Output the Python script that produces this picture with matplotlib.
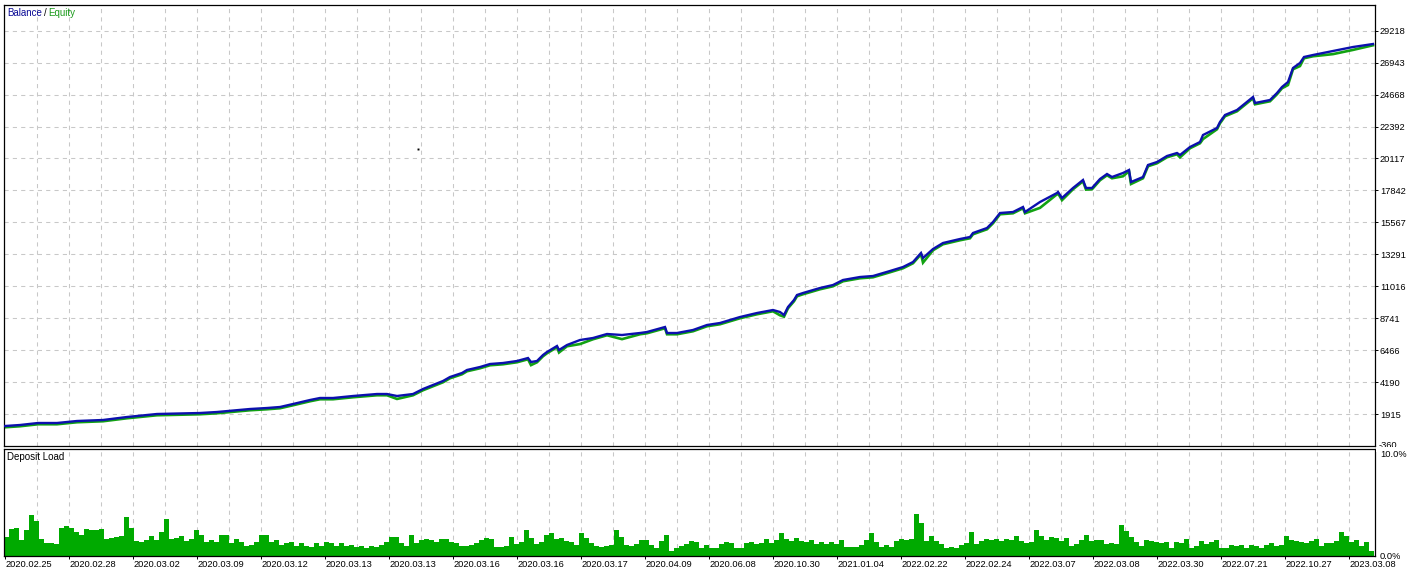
import matplotlib
matplotlib.use('Agg')
import matplotlib.pyplot as plt
from matplotlib.patches import Rectangle

# ---------------- data ----------------
trade_x = [1, 16, 34, 53, 73, 99, 123, 153, 196, 213, 246, 263, 276, 289, 306, 316, 329, 349, 373, 383,
           393, 409, 419, 439, 446, 458, 463, 476, 486, 499, 513, 524, 527, 533, 539, 543, 553, 555, 563, 576,
           589, 603, 618, 636, 643, 661, 663, 673, 689, 703, 716, 736, 753, 769, 776, 780, 784, 790, 793, 799,
           816, 829, 839, 856, 869, 886, 899, 909, 917, 919, 929, 939, 956, 966, 969, 983, 989, 996, 1009, 1019,
           1021, 1036, 1053, 1054, 1058, 1069, 1079, 1082, 1088, 1096, 1103, 1108, 1119, 1125, 1127, 1139, 1144, 1153, 1163, 1173,
           1176, 1186, 1196, 1199, 1213, 1216, 1221, 1233, 1249, 1251, 1266, 1273, 1278, 1284, 1289, 1296, 1300, 1309, 1329, 1349,
           1369]

balance = [1064, 1136, 1278, 1278, 1421, 1492, 1705, 1919, 1990, 2061, 2275, 2346, 2418, 2631, 2916, 3059, 3059, 3201, 3343, 3343,
           3201, 3343, 3700, 4269, 4554, 4839, 5053, 5266, 5480, 5551, 5694, 5907, 5623, 5694, 6121, 6335, 6762, 6477, 6833, 7189,
           7332, 7617, 7545, 7688, 7759, 8115, 7688, 7688, 7902, 8258, 8400, 8827, 9112, 9326, 9183, 8970, 9540, 10038, 10394, 10537,
           10893, 11106, 11463, 11676, 11747, 12104, 12388, 12744, 13385, 13029, 13670, 14098, 14383, 14525, 14810, 15166, 15593, 16234, 16305, 16662,
           16305, 17018, 17659, 17730, 17303, 18015, 18585, 18015, 18015, 18656, 19012, 18798, 19083, 19297, 18442, 18798, 19653, 19866, 20294, 20507,
           20365, 20935, 21291, 21789, 22288, 22715, 23214, 23570, 24496, 24068, 24282, 24781, 25208, 25564, 26561, 26917, 27345, 27487, 27772, 28057,
           28270]

equity = [974, 1046, 1188, 1188, 1331, 1402, 1615, 1829, 1900, 1971, 2185, 2256, 2328, 2541, 2826, 2969, 2969, 3111, 3253, 3253,
          2990, 3253, 3610, 4179, 4464, 4749, 4963, 5176, 5390, 5461, 5604, 5817, 5400, 5604, 6031, 6245, 6672, 6300, 6743, 6900,
          7242, 7527, 7250, 7598, 7669, 8025, 7598, 7598, 7812, 8168, 8310, 8737, 9022, 9236, 8950, 8850, 9450, 9948, 10304, 10447,
          10803, 11016, 11373, 11586, 11657, 12014, 12298, 12654, 13295, 12700, 13580, 14008, 14293, 14435, 14720, 15076, 15503, 16144, 16215, 16572,
          16215, 16600, 17569, 17640, 17150, 17925, 18495, 17900, 17925, 18566, 18922, 18708, 18850, 19207, 18300, 18708, 19563, 19776, 20204, 20417,
          20200, 20845, 21201, 21500, 22198, 22625, 23124, 23480, 24406, 23978, 24192, 24691, 25118, 25350, 26471, 26700, 27255, 27397, 27550, 27850,
          28180]

stray_x = [414]
stray_y = [20792]

deposit_load = [
    1.8, 2.5, 2.6, 1.5, 2.4, 3.8, 3.3, 1.6, 1.2, 1.2,
    1.1, 2.6, 2.8, 2.6, 2.2, 2.0, 2.5, 2.4, 2.4, 2.5,
    1.6, 1.7, 1.8, 1.9, 3.6, 2.6, 1.4, 1.3, 1.5, 1.9,
    1.5, 2.2, 3.4, 1.6, 1.7, 1.9, 1.4, 1.6, 2.4, 2.0,
    1.3, 1.5, 1.3, 2.0, 2.0, 1.2, 1.6, 1.3, 0.9, 1.0,
    1.3, 2.0, 2.0, 1.3, 1.5, 1.0, 1.2, 1.3, 0.9, 1.2,
    0.9, 0.8, 1.2, 0.9, 1.3, 1.2, 0.9, 1.2, 0.9, 1.0,
    0.8, 0.9, 0.7, 0.9, 0.8, 1.0, 1.3, 1.8, 1.8, 1.2,
    0.9, 2.0, 1.2, 1.5, 1.6, 1.5, 1.3, 1.6, 1.6, 1.3,
    1.2, 0.9, 0.9, 1.0, 1.2,
    1.5, 1.7, 1.6, 0.8, 0.8, 0.9, 1.8, 1.1, 1.3, 2.4,
    1.7, 1.1, 1.3, 2.0, 2.1, 1.6, 1.7, 1.4, 1.3, 1.0,
    2.1, 1.7, 1.2, 0.9, 0.8, 0.9, 1.0, 2.4, 1.8, 1.0,
    0.9, 1.1, 1.5, 1.5, 1.0, 0.7, 1.4, 2.0, 0.5, 0.7,
    0.9, 1.1, 1.4, 1.3, 0.7, 1.0, 0.7, 0.7, 1.1, 1.3,
    1.2, 0.7, 0.7, 1.2, 1.3, 1.1, 1.2, 1.6, 1.2, 1.5,
    2.1, 1.6, 1.4, 1.7, 1.4, 1.3, 1.5, 1.1, 1.3, 1.1,
    1.3, 1.1, 1.5, 0.8, 0.8, 0.8, 1.0, 1.5, 2.1, 1.3,
    0.8, 1.0, 0.8, 1.4, 1.6, 1.5, 1.6, 3.9, 3.1, 1.4,
    1.9, 1.4, 1.1, 0.7,
    0.8, 0.7, 1.0, 1.2, 2.2, 1.1, 1.4, 1.6, 1.5, 1.6,
    1.4, 1.6, 1.5, 1.9, 1.4, 1.2, 1.3, 2.4, 1.9, 1.5,
    1.8, 1.7, 1.4, 1.7, 0.9, 1.1, 1.5, 2.0, 1.4, 1.5,
    1.5, 1.1, 1.2, 1.1, 2.9, 2.3, 1.8, 1.3, 0.9, 1.5,
    1.4, 1.3, 1.2, 1.3, 0.7, 1.3, 1.2, 1.6, 0.7, 0.9,
    1.4, 1.1, 1.3, 1.5, 0.7, 0.7, 1.0, 0.9, 1.0, 0.7,
    1.0, 0.9, 0.7, 1.0, 1.2, 0.9, 1.0, 1.9, 1.5, 1.4,
    1.3, 1.2, 1.4, 1.6, 0.9, 1.2, 1.2, 1.4, 2.2, 1.9,
    1.3, 1.5, 0.9, 1.3, 0.5]

y_tick_values = [1915, 4190, 6466, 8741, 11016, 13291, 15567, 17842, 20117, 22392, 24668, 26943, 29218]
y_tick_labels = ['1915', '4190', '6466', '8741', '11016', '13291', '15567', '17842', '20117', '22392', '24668', '26943', '29218']
y_bottom_label = '-360'

date_labels = ['2020.02.25', '2020.02.28', '2020.03.02', '2020.03.09', '2020.03.12', '2020.03.13',
               '2020.03.13', '2020.03.16', '2020.03.16', '2020.03.17', '2020.04.09', '2020.06.08',
               '2020.10.30', '2021.01.04', '2022.02.22', '2022.02.24', '2022.03.07', '2022.03.08',
               '2022.03.30', '2022.07.21', '2022.10.27', '2023.03.08']
load_labels = ['10.0%', '0.0%']

# ---------------- style ----------------
BLUE = '#0C10AE'
GREEN = '#12A212'
BAR_GREEN = '#00AA00'
GRID = '#C8C8C8'
FS = 6.7

plt.rcParams['font.family'] = ['Liberation Sans', 'DejaVu Sans']

W, H = 1420, 573
fig = plt.figure(figsize=(W / 100, H / 100), dpi=100)
fig.patch.set_facecolor('white')


def fx(px):
    return px / W


def fy(py):
    return 1 - py / H


L, R = 4, 1375
T1, B1 = 4.5, 446
T2, B2 = 448.5, 556
ax1 = fig.add_axes([fx(L), fy(B1), (R - L) / W, (B1 - T1) / H])
ax2 = fig.add_axes([fx(L), fy(B2), (R - L) / W, (B2 - T2) / H])

XMAX = R - L
ymin, ymax = -360, 31084

# grid positions every 32 px, labels every 64 px
grid_x = [1.33 + 32 * k for k in range(1, 43)]
label_x = [1.33 + 64 * k for k in range(len(date_labels))]

for ax in (ax1, ax2):
    ax.set_xlim(0, XMAX)
    for s in ax.spines.values():
        s.set_color('black')
        s.set_linewidth(0.9)
    for gx in grid_x:
        ax.axvline(gx, color=GRID, lw=0.75, ls=(0, (4, 4)), zorder=0)

# ---- top panel ----
ax1.set_ylim(ymin, ymax)
for gy in y_tick_values:
    ax1.axhline(gy, color=GRID, lw=0.75, ls=(0, (4, 4)), zorder=0)
ax1.plot(trade_x, equity, color=GREEN, lw=1.9, zorder=2, solid_joinstyle='miter')
ax1.plot(trade_x, balance, color=BLUE, lw=1.7, zorder=3, solid_joinstyle='miter')
ax1.plot(stray_x, stray_y, 's', ms=1.4, color='black', mew=0, zorder=3)
ax1.set_xticks([])
ax1.yaxis.tick_right()
ax1.set_yticks(y_tick_values)
ax1.set_yticklabels(y_tick_labels)
ax1.tick_params(axis='y', right=True, left=False, labelright=True, labelleft=False,
                length=2, width=0.7, pad=1.5, labelsize=FS, colors='black')

# legend-like title
t = fig.text(fx(7), fy(13), 'Balance', color='#0A0A96', fontsize=FS + 0.3, va='center', ha='left')
fig.canvas.draw()
bb = t.get_window_extent()
t2 = fig.text(bb.x1 / W + fx(2), fy(13), '/', color='black', fontsize=FS + 0.3, va='center', ha='left')
bb2 = t2.get_window_extent()
fig.text(bb2.x1 / W + fx(2), fy(13), 'Equity', color='#1A9A1A', fontsize=FS + 0.3, va='center', ha='left')

# bottom "-360" label (clipped by the lower panel)
fig.text(fx(1379), fy(446), y_bottom_label, fontsize=FS, va='center', ha='left', zorder=1)
fig.patches.append(Rectangle((fx(1376), fy(452)), fx(44), (452 - 447.2) / H, transform=fig.transFigure,
                             facecolor='white', edgecolor='none', zorder=2))

# ---- bottom panel ----
ax2.set_ylim(0, 10)
bar_left = [5 * i for i in range(len(deposit_load))]
ax2.bar(bar_left, deposit_load, width=5, align='edge', color=BAR_GREEN, edgecolor='none', zorder=2)
ax2.set_yticks([])
ax2.set_xticks(label_x)
ax2.set_xticklabels(date_labels)
for lab in ax2.get_xticklabels():
    lab.set_ha('left')
    lab.set_clip_on(False)
ax2.tick_params(axis='x', length=2, width=0.7, pad=0.8, labelsize=FS, colors='black')

fig.text(fx(7), fy(457), 'Deposit Load', fontsize=FS + 0.3, va='center', ha='left')
fig.text(fx(1380), fy(454.5), load_labels[0], fontsize=FS, va='center', ha='left', zorder=3)
fig.text(fx(1380), fy(556.5), load_labels[1], fontsize=FS, va='center', ha='left', zorder=3)

fig.savefig('out.png', dpi=100, facecolor='white')
